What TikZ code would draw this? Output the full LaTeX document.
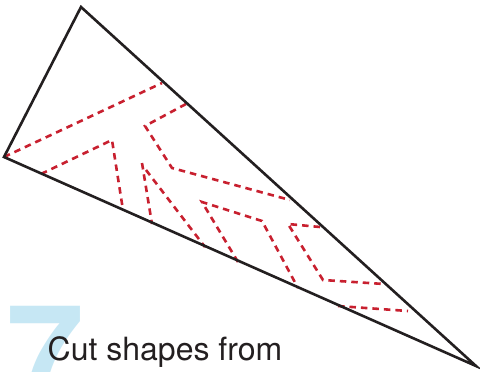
\documentclass[tikz,border=0pt]{standalone}
\usepackage{fontspec}
\setmainfont{TeX Gyre Heros}
\definecolor{edgecol}{HTML}{231F20}
\definecolor{cutred}{HTML}{C8202F}
\definecolor{numblue}{HTML}{C6E7F4}
\begin{document}
\begin{tikzpicture}[x=1pt,y=-1pt,
  edge/.style={draw=edgecol,line width=2.6pt,line join=miter},
  cutline/.style={draw=cutred,line width=2.6pt,dash pattern=on 6.5pt off 5pt},
  numstyle/.style={inner sep=0pt,anchor=base west,text=numblue,font=\fontsize{140}{140}\selectfont\bfseries},
  captionstyle/.style={inner sep=0pt,anchor=base west,text=edgecol,font=\fontsize{32}{38}\selectfont}]
\useasboundingbox (0,0) rectangle (480,372);
\clip (0,0) rectangle (480,372);
% vertices
\coordinate (T) at (81,7);
\coordinate (L) at (4,157);
\coordinate (R) at (476,366);
% big number and caption
\node[numstyle] (num) at (6,405) {7};
\node[captionstyle] (cap) at (47.5,360) {Cut shapes from};
% dashed cut lines
\coordinate (a1) at (162,83);
\coordinate (b1) at (41,174);
\coordinate (b2) at (112,140);
\coordinate (b3) at (123,210);
\coordinate (c1) at (186,104);
\coordinate (c2) at (145,126);
\coordinate (c3) at (172,168);
\coordinate (c4) at (290,200);
\coordinate (d1) at (142,163);
\coordinate (d2) at (152,224);
\coordinate (d3) at (146,170);
\coordinate (d4) at (205,247);
\coordinate (e1) at (202,202);
\coordinate (e2) at (262,221);
\coordinate (e3) at (298,288);
\coordinate (e4) at (238,262);
\coordinate (f1) at (288,224);
\coordinate (f2) at (320,227);
\coordinate (f3) at (323,280);
\coordinate (f4) at (384,284);
\coordinate (g1) at (338,306);
\coordinate (g2) at (408,311);
\draw[cutline] (L) -- (a1);
\draw[cutline] (b1) -- (b2) -- (b3);
\draw[cutline] (c1) -- (c2) -- (c3) -- (c4);
\draw[cutline] (d1) -- (d2);
\draw[cutline] (d3) -- (d4);
\draw[cutline] (e4) -- (e1) -- (e2) -- (e3);
\draw[cutline] (f2) -- (f1) -- (f3) -- (f4);
\draw[cutline] (g1) -- (g2);
% triangle
\draw[edge] (T) -- (L) -- (R) -- cycle;
\end{tikzpicture}
\end{document}
